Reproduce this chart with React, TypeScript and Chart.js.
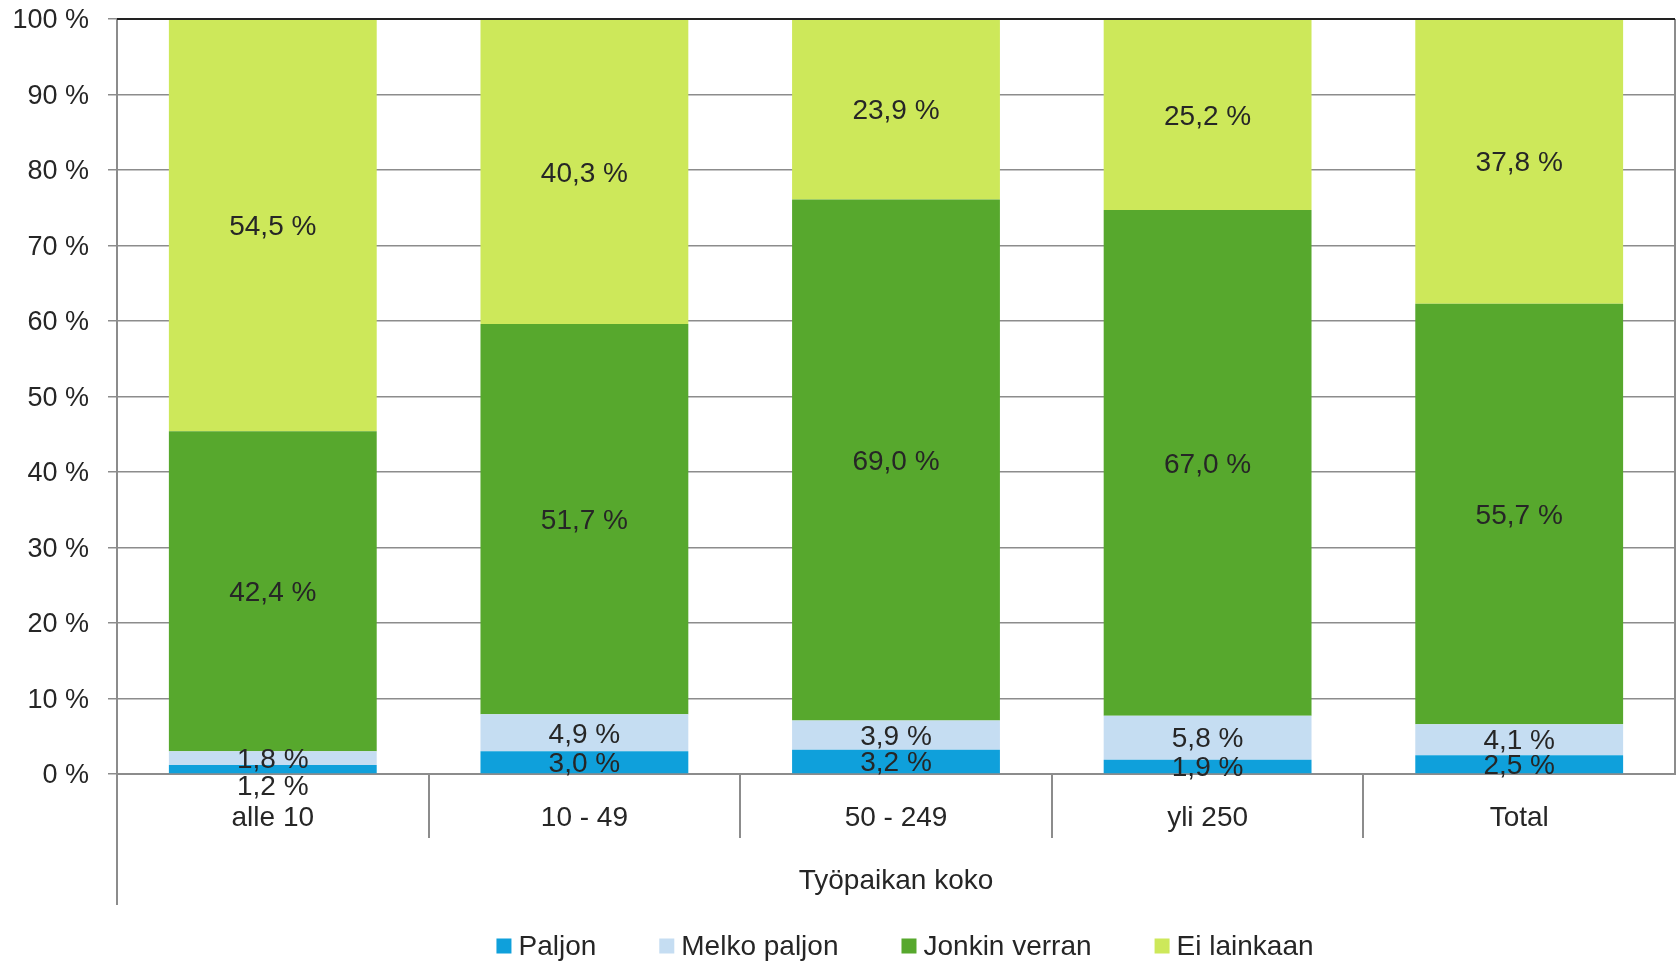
import React, { useEffect, useRef } from "react";
import { Chart, registerables } from "chart.js";

Chart.register(...registerables);

const categories = ["alle 10", "10 - 49", "50 - 249", "yli 250", "Total"];
const seriesNames = ["Paljon", "Melko paljon", "Jonkin verran", "Ei lainkaan"];
const paljon = [1.2, 3.0, 3.2, 1.9, 2.5];
const melkoPaljon = [1.8, 4.9, 3.9, 5.8, 4.1];
const jonkinVerran = [42.4, 51.7, 69.0, 67.0, 55.7];
const eiLainkaan = [54.5, 40.3, 23.9, 25.2, 37.8];
const seriesColors = ["#0FA0DB", "#C5DDF2", "#57A82D", "#CDE85A"];
const yTickLabels = ["0 %", "10 %", "20 %", "30 %", "40 %", "50 %", "60 %", "70 %", "80 %", "90 %", "100 %"];
const axisTitle = "Työpaikan koko";

const FONT = "'Liberation Sans', Arial, sans-serif";
const TEXT = "#262626";
const GRID = "#8c8c8c";

const fmt = (v: number) => v.toFixed(1).replace(".", ",") + " %";

const segLabels = {
  id: "segLabels",
  afterDatasetsDraw(chart: any) {
    const ctx = chart.ctx;
    ctx.save();
    ctx.font = `28px ${FONT}`;
    ctx.fillStyle = TEXT;
    ctx.textAlign = "center";
    ctx.textBaseline = "middle";
    const n = chart.data.labels.length;
    for (let i = 0; i < n; i++) {
      const pts = chart.data.datasets.map((ds: any, d: number) => {
        const el = chart.getDatasetMeta(d).data[i];
        return { x: el.x, y: (el.y + el.base) / 2, v: ds.data[i] };
      });
      if (pts[0].y - pts[1].y < 20) pts[0].y = pts[1].y + 27;
      pts.forEach((p: any) => ctx.fillText(fmt(p.v), p.x, p.y + 2));
    }
    ctx.restore();
  },
};

const frame = {
  id: "frame",
  afterDraw(chart: any) {
    const { ctx, chartArea } = chart;
    const { left, right, top, bottom } = chartArea;
    ctx.save();
    ctx.strokeStyle = GRID;
    ctx.lineWidth = 2;
    const n = chart.data.labels.length;
    const step = (right - left) / n;
    for (let i = 1; i < n; i++) {
      const x = Math.round(left + step * i);
      ctx.beginPath();
      ctx.moveTo(x, bottom);
      ctx.lineTo(x, bottom + 64);
      ctx.stroke();
    }
    ctx.beginPath();
    ctx.moveTo(left, bottom);
    ctx.lineTo(left, bottom + 131);
    ctx.stroke();
    ctx.beginPath();
    ctx.moveTo(right, top);
    ctx.lineTo(right, bottom);
    ctx.stroke();
    ctx.strokeStyle = "#222";
    ctx.beginPath();
    ctx.moveTo(left, top);
    ctx.lineTo(right, top);
    ctx.stroke();

    // legend
    ctx.font = `28px ${FONT}`;
    ctx.textBaseline = "middle";
    ctx.textAlign = "left";
    const box = 15, gapText = 7, gapItem = 63;
    const widths = seriesNames.map((s) => ctx.measureText(s).width);
    const total = widths.reduce((a, b) => a + b, 0) + seriesNames.length * (box + gapText) + (seriesNames.length - 1) * gapItem;
    let x = 905 - total / 2;
    const cy = 946;
    seriesNames.forEach((s, i) => {
      ctx.fillStyle = seriesColors[i];
      ctx.fillRect(x, cy - box / 2, box, box);
      ctx.fillStyle = TEXT;
      ctx.fillText(s, x + box + gapText, cy + 1);
      x += box + gapText + widths[i] + gapItem;
    });
    ctx.restore();
  },
};

export default function App() {
  const ref = useRef<HTMLCanvasElement>(null);
  useEffect(() => {
    if (!ref.current) return;
    const seriesData = [paljon, melkoPaljon, jonkinVerran, eiLainkaan];
    const chart = new Chart(ref.current, {
      type: "bar",
      data: {
        labels: categories,
        datasets: seriesNames.map((name, i) => ({
          label: name,
          data: seriesData[i],
          backgroundColor: seriesColors[i],
          borderWidth: 0,
          barPercentage: 0.667,
          categoryPercentage: 1,
        })),
      },
      options: {
        responsive: false,
        animation: false,
        layout: { padding: { top: 19, right: 2, left: 0, bottom: 0 } },
        plugins: { legend: { display: false }, tooltip: { enabled: false } },
        scales: {
          x: {
            stacked: true,
            grid: { display: false, drawTicks: false },
            border: { display: true, color: GRID, width: 2 },
            ticks: { font: { size: 28, family: FONT }, color: TEXT, padding: 27 },
            title: {
              display: true,
              text: axisTitle,
              font: { size: 28, family: FONT },
              color: TEXT,
              padding: { top: 0, bottom: 64 },
            },
            afterFit: (s: any) => {
              s.height = 188;
            },
          },
          y: {
            stacked: true,
            min: 0,
            max: 100,
            ticks: {
              stepSize: 10,
              callback: (_v: any, i: number) => yTickLabels[i],
              font: { size: 27, family: FONT },
              color: TEXT,
              padding: 19,
              labelOffset: 2,
            },
            grid: {
              color: GRID,
              lineWidth: 1.5,
              tickLength: 9,
              drawTicks: true,
              tickColor: GRID,
            },
            border: { display: true, color: GRID, width: 2 },
            afterFit: (s: any) => {
              s.width = 117;
              s.paddingTop = 0;
              s.paddingBottom = 0;
            },
          },
        },
      },
      plugins: [segLabels, frame],
    });
    return () => chart.destroy();
  }, []);
  return (
    <div style={{ position: "absolute", left: 0, top: 0, width: 1677, height: 962, background: "#fff" }}>
      <canvas ref={ref} width={1677} height={962} />
    </div>
  );
}
